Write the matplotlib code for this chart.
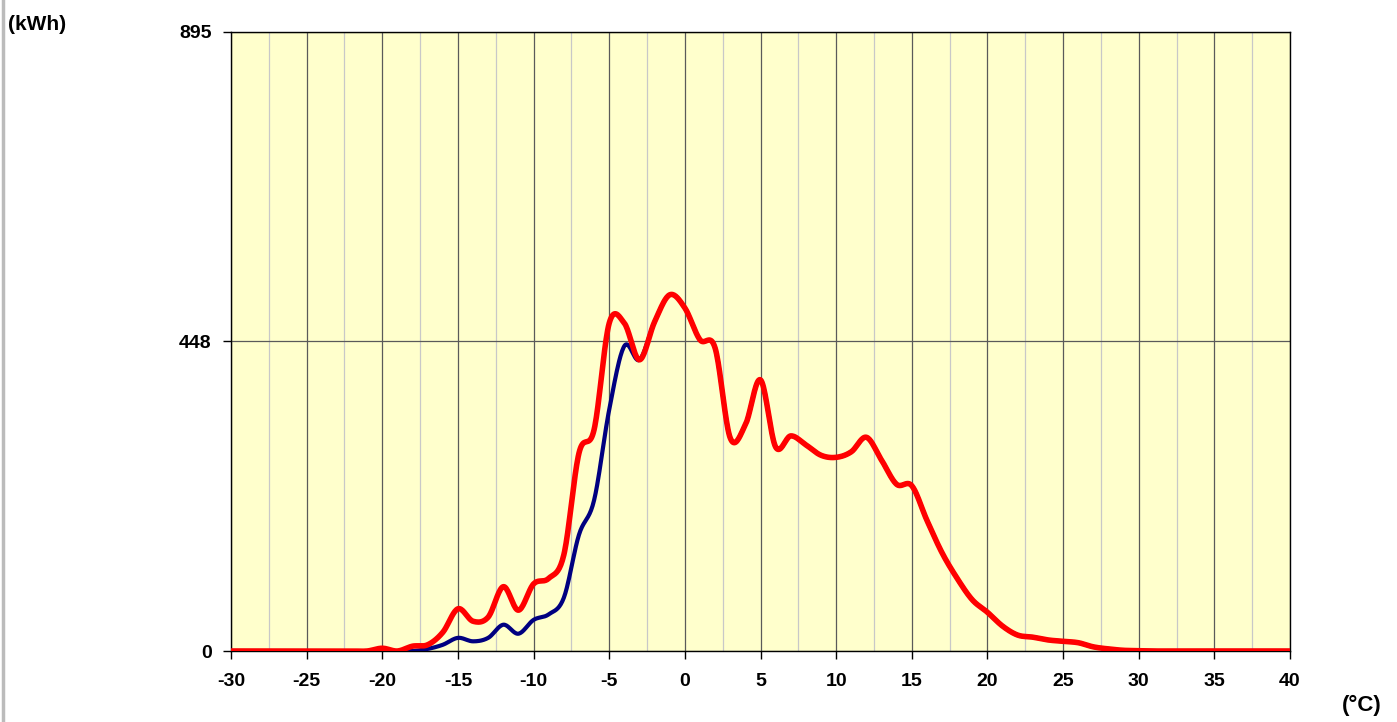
import matplotlib
matplotlib.use('Agg')
import matplotlib.pyplot as plt
from matplotlib.lines import Line2D
import numpy as np

plt.rcParams['font.family'] = ['Liberation Sans', 'DejaVu Sans']
plt.rcParams['axes.unicode_minus'] = False

# Temperature (°C) and energy (kWh)
temps = np.arange(-30, 41)

red_vals = [0]*9 + [  # -30 .. -22
    0, 4, 0, 7, 9, 27, 61, 43, 49, 93, 59, 97, 105, 139, 286, 320,   # -21 .. -6
    474, 474, 421, 476, 515, 496, 450, 438, 308, 327, 392, 295, 311,  # -5 .. 7
    298, 283, 280, 288, 309, 276, 241, 239, 189, 142, 105, 74, 56,    # 8 .. 20
    36, 23, 20, 16, 14, 12, 6, 3, 1, 0.5, 0, 0, 0, 0, 0, 0, 0, 0, 0, 0]  # 21 .. 40

blue_vals = [0]*12 + [  # -30 .. -19
    0, 3, 9, 19, 14, 19, 38, 25, 45, 53, 77, 168, 218, 349, 441] + red_vals[27:]

def smooth(x, y, n=20):
    # Catmull-Rom style smoothing, like a spreadsheet's smoothed line
    x = np.asarray(x, float)
    y = np.asarray(y, float)
    px = np.concatenate([[x[0]], x, [x[-1]]])
    py = np.concatenate([[y[0]], y, [y[-1]]])
    xs, ys = [], []
    t = np.linspace(0, 1, n, endpoint=False)
    for i in range(1, len(px) - 2):
        for P, out in ((px, xs), (py, ys)):
            p0, p1, p2, p3 = P[i-1], P[i], P[i+1], P[i+2]
            m1 = (p2 - p0) / 2
            m2 = (p3 - p1) / 2
            h00 = 2*t**3 - 3*t**2 + 1
            h10 = t**3 - 2*t**2 + t
            h01 = -2*t**3 + 3*t**2
            h11 = t**3 - t**2
            out.extend(h00*p1 + h10*m1 + h01*p2 + h11*m2)
    xs.append(x[-1])
    ys.append(y[-1])
    return np.array(xs), np.array(ys)

fig = plt.figure(figsize=(13.97, 7.22), dpi=100)
ax = fig.add_axes([231/1397, 71/722, 1059/1397, 619/722])
ax.set_facecolor('#FFFFCC')

bx, by = smooth(temps, blue_vals)
rx, ry = smooth(temps, red_vals)
ax.plot(bx, by, color='#000080', lw=3.0, solid_capstyle='butt', zorder=3)
ax.plot(rx, ry, color='#FF0000', lw=4.0, solid_capstyle='butt', zorder=4)

ax.set_xlim(-30, 40)
ax.set_ylim(0, 895)
ax.set_xticks(np.arange(-30, 41, 5))
ax.set_xticks(np.arange(-27.5, 40, 5), minor=True)
ax.set_yticks([0, 448, 895])
ax.grid(which='major', axis='x', color='#5a5a5a', lw=0.9)
ax.grid(which='minor', axis='x', color='#C8C8C8', lw=0.9)
ax.grid(which='major', axis='y', color='#5a5a5a', lw=0.9)
ax.tick_params(which='major', direction='out', length=6, width=1,
               labelsize=14, pad=10)
ax.tick_params(which='minor', length=0)
ax.tick_params(axis='y', pad=8)
for lab in ax.get_xticklabels() + ax.get_yticklabels():
    lab.set_fontweight('bold')
for s in ax.spines.values():
    s.set_color('black')
    s.set_linewidth(1)

fig.text(8/1397, 1 - 25/722, '(kWh)', fontsize=15, fontweight='bold',
         ha='left', va='center')
fig.text(1382/1397, 1 - 705/722, '(°C)', fontsize=16, fontweight='bold',
         ha='right', va='center')
fig.add_artist(Line2D([2.5/1397, 2.5/1397], [0, 1], color='#BBBBBB', lw=2.5,
                      transform=fig.transFigure))

fig.savefig('out.png', dpi=100)
